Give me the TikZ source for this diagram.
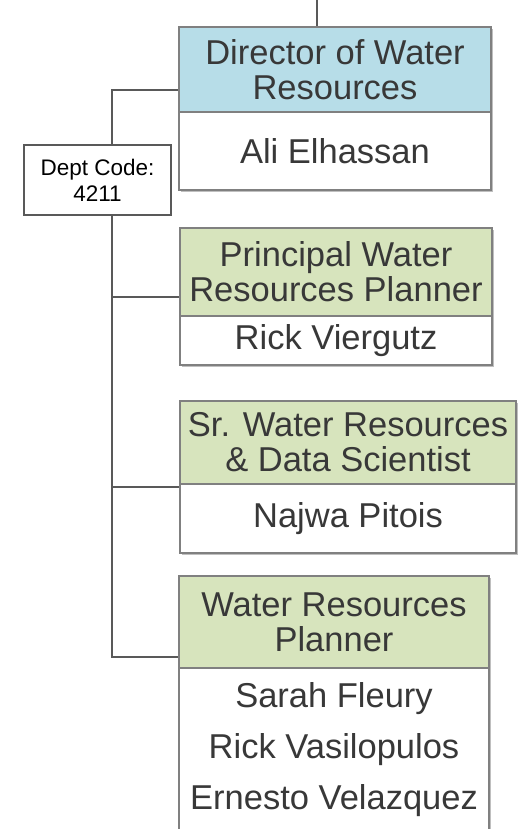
\documentclass[tikz,border=0pt]{standalone}
\usepackage{fontspec}
\setmainfont{Liberation Sans}
\usetikzlibrary{shadows}
\definecolor{headblue}{HTML}{B7DDE8}
\definecolor{headgreen}{HTML}{D7E4BD}
\definecolor{boxline}{HTML}{808080}
\definecolor{connline}{HTML}{595959}
\definecolor{txtgrey}{HTML}{383838}
\tikzset{
  cardpart/.style={draw=boxline,line width=1.3pt,minimum width=312pt,text=txtgrey,
    align=center,inner sep=0pt,font=\fontsize{34.5}{35}\selectfont,
    drop shadow={shadow xshift=2pt,shadow yshift=-2pt,opacity=0.25,fill=black}},
  conn/.style={draw=connline,line width=1.5pt},
  codebox/.style={draw=connline,line width=1.3pt,fill=white,minimum width=147pt,minimum height=70pt,
    inner sep=0pt,align=center,font=\fontsize{22.5}{26}\selectfont,text=black}
}

\begin{document}
\begin{tikzpicture}[x=1pt,y=-1pt]
    \useasboundingbox[fill=white] (0,0) rectangle (518,829);
    % director
    \node[cardpart,fill=headblue,minimum height=85pt] (dirH) at (335,69.5) {Director of Water\\Resources};
    \node[cardpart,fill=white,minimum height=78pt] (dirB) at (335,151) {Ali Elhassan};
    \node[codebox] (dept) at (97.5,180) {Dept Code:\\4211};
    % planners
    \node[cardpart,fill=headgreen,minimum height=88pt] (prinH) at (336,272) {Principal Water\\Resources Planner};
    \node[cardpart,fill=white,minimum height=49pt] (prinB) at (336,340.5) {Rick Viergutz};
    \node[cardpart,fill=headgreen,minimum width=336pt,minimum height=83pt] (srH) at (348,442.5) {Sr. Water Resources\\\& Data Scientist};
    \node[cardpart,fill=white,minimum width=336pt,minimum height=69pt] (srB) at (348,518.5) {Najwa Pitois};
    \node[cardpart,fill=headgreen,minimum width=310pt,minimum height=92pt] (wrpH) at (334,622) {Water Resources\\Planner};
    \node[cardpart,fill=white,minimum width=310pt,minimum height=164pt,
      font=\fontsize{34.5}{51}\selectfont] (wrpB) at (334,750) {Sarah Fleury\\Rick Vasilopulos\\Ernesto Velazquez};
    % connectors
    \coordinate (top) at (317,0);
    \coordinate (spine) at (112,0);
    \draw[conn] (top) -- (top |- dirH.north);
    \draw[conn] (dirH.west |- 0,90) -| (spine |- dept.north);
    \draw[conn] (spine |- dept.south) -- (spine |- 0,657) -- (wrpH.west |- 0,657);
    \draw[conn] (spine |- 0,297) -- (prinH.west |- 0,297);
    \draw[conn] (spine |- 0,487) -- (srB.west |- 0,487);
\end{tikzpicture}
\end{document}
